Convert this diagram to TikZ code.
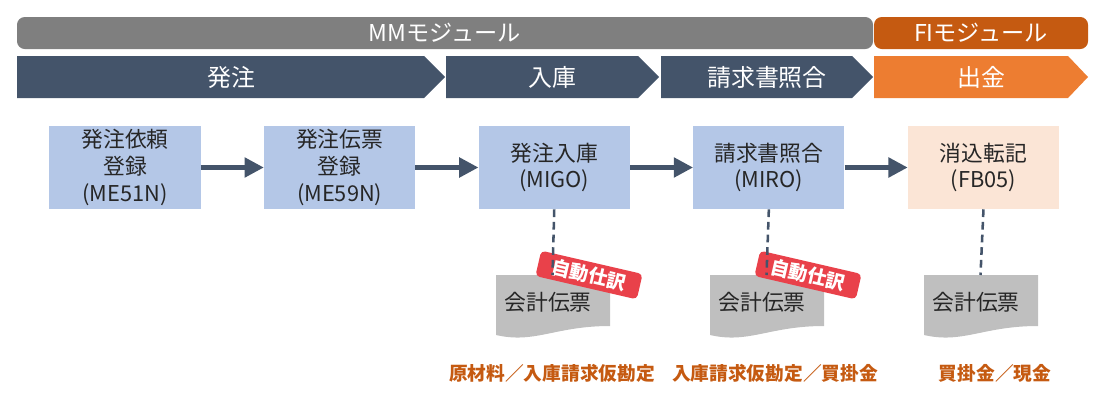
\documentclass[tikz,border=0pt]{standalone}
\usepackage{fontspec}
\setmainfont{Noto Sans CJK JP}
\usepackage{tikz}
\usetikzlibrary{arrows.meta,positioning}
\definecolor{modgray}{HTML}{7F7F7F}
\definecolor{fibrown}{HTML}{C55A11}
\definecolor{navy}{HTML}{44546A}
\definecolor{fiorange}{HTML}{ED7D31}
\definecolor{boxblue}{HTML}{B4C7E7}
\definecolor{boxpeach}{HTML}{FBE5D6}
\definecolor{docgray}{HTML}{BFBFBF}
\definecolor{badgered}{HTML}{E9414A}
\definecolor{textdark}{HTML}{262626}
\tikzset{
  modtxt/.style={text=white, font=\fontsize{16.5pt}{18pt}\selectfont},
  phasetxt/.style={text=white, font=\fontsize{17pt}{19pt}\selectfont},
  tcode/.style={minimum width=3.775cm, minimum height=2.075cm, inner sep=2pt, align=center, text=textdark, font=\fontsize{15.5pt}{19pt}\selectfont},
  tcodeb/.style={tcode, fill=boxblue},
  tcodep/.style={tcode, fill=boxpeach},
  flow/.style={-{Triangle[length=4.8mm,width=4.8mm]}, line width=3.2pt, draw=navy},
  link/.style={draw=navy, line width=1.8pt, dash pattern=on 5.5pt off 3.5pt},
  doctxt/.style={text=textdark, font=\fontsize{15.5pt}{18pt}\selectfont},
  autotag/.style={fill=badgered, rounded corners=3pt, rotate=-13, minimum width=2.6cm, minimum height=0.65cm, inner sep=0pt, text=white, font=\bfseries\fontsize{13.5pt}{15pt}\selectfont},
  entry/.style={text=fibrown, font=\bfseries\fontsize{13.3pt}{15pt}\selectfont},
}
\begin{document}
\begin{tikzpicture}[x=0.025cm, y=-0.025cm]
  \useasboundingbox (0,0) rectangle (1104,402);
  % module bars
  \fill[modgray, rounded corners=5.5pt] (17,17) rectangle (873,49);
  \node[modtxt] (mm) at (445,33) {MMモジュール};
  \fill[fibrown, rounded corners=5.5pt] (874,17) rectangle (1088,49);
  \node[modtxt] (fi) at (981,33) {FIモジュール};
  % phases
  \fill[navy] (17,56) -- (424,56) -- (445,77) -- (424,98) -- (17,98) -- cycle;
  \node[phasetxt] (ph1) at (231,77) {発注};
  \fill[navy] (446,56) -- (638,56) -- (659,77) -- (638,98) -- (446,98) -- cycle;
  \node[phasetxt] (ph2) at (552,77) {入庫};
  \fill[navy] (661,56) -- (852,56) -- (873,77) -- (852,98) -- (661,98) -- cycle;
  \node[phasetxt] (ph3) at (767,77) {請求書照合};
  \fill[fiorange] (874,56) -- (1068,56) -- (1088,77) -- (1068,98) -- (874,98) -- cycle;
  \node[phasetxt] (ph4) at (981,77) {出金};
  % transactions
  \node[tcodeb] (b1) at (125,167.5) {発注依頼\\登録\\(ME51N)};
  \node[tcodeb, right=1.575cm of b1] (b2) {発注伝票\\登録\\(ME59N)};
  \node[tcodeb, right=1.575cm of b2] (b3) {発注入庫\\(MIGO)};
  \node[tcodeb, right=1.575cm of b3] (b4) {請求書照合\\(MIRO)};
  \node[tcodep, right=1.575cm of b4] (b5) {消込転記\\(FB05)};
  \draw[flow] (b1) -- (b2);
  \draw[flow] (b2) -- (b3);
  \draw[flow] (b3) -- (b4);
  \draw[flow] (b4) -- (b5);
  % accounting documents
  \fill[docgray] (496,275) -- (610,275) -- (610,326) .. controls (555,326) and (535,344) .. (496,335) -- cycle;
  \node[doctxt] (d3) at (548,302) {会計伝票};
  \fill[docgray] (710,275) -- (824,275) -- (824,326) .. controls (769,326) and (749,344) .. (710,335) -- cycle;
  \node[doctxt] (d4) at (762,302) {会計伝票};
  \fill[docgray] (924,275) -- (1038,275) -- (1038,326) .. controls (983,326) and (963,344) .. (924,335) -- cycle;
  \node[doctxt] (d5) at (976,302) {会計伝票};
  \coordinate (t3) at (552.5,275);
  \coordinate (t4) at (766.5,275);
  \coordinate (t5) at (980.5,275);
  \node[autotag] (a3) at (589,275) {自動仕訳};
  \node[autotag] (a4) at (808,275) {自動仕訳};
  \draw[link] (b3.south) -- (t3);
  \draw[link] (b4.south) -- (t4);
  \draw[link] (b5.south) -- (t5);
  % postings
  \node[entry] (e3) at (552,373) {原材料／入庫請求仮勘定};
  \node[entry] (e4) at (775,373) {入庫請求仮勘定／買掛金};
  \node[entry] (e5) at (995,373) {買掛金／現金};
\end{tikzpicture}
\end{document}
